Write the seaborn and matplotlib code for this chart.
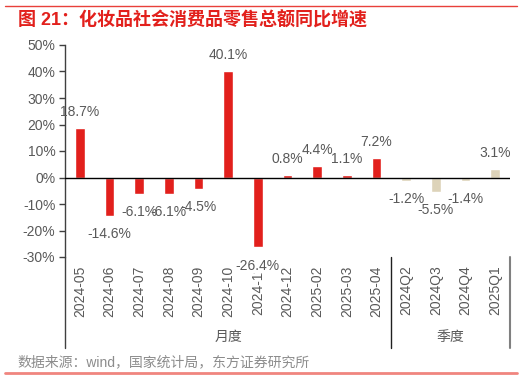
import matplotlib
matplotlib.use("Agg")
from matplotlib import pyplot as plt
import matplotlib.transforms as mtransforms
import pandas as pd
import seaborn as sns

# data
months = ["2024-05", "2024-06", "2024-07", "2024-08", "2024-09", "2024-10",
          "2024-11", "2024-12", "2025-02", "2025-03", "2025-04"]
month_vals = [18.7, -14.6, -6.1, -6.1, -4.5, 40.1, -26.4, 0.8, 4.4, 1.1, 7.2]
quarters = ["2024Q2", "2024Q3", "2024Q4", "2025Q1"]
quarter_vals = [-1.2, -5.5, -1.4, 3.1]
groups = ["月度", "季度"]

df = pd.DataFrame({
    "period": months + quarters,
    "value": month_vals + quarter_vals,
    "group": [groups[0]] * len(months) + [groups[1]] * len(quarters),
})

sns.set_theme(style="white")
plt.rcParams["font.family"] = ["Liberation Sans", "Noto Sans CJK SC"]
plt.rcParams["axes.unicode_minus"] = False

gray = "#595959"
fig = plt.figure(figsize=(5.22, 3.79), dpi=100)
ax = fig.add_axes([65 / 522, 1 - 257 / 379, 445 / 522, 212 / 379])

sns.barplot(data=df, x="period", y="value", hue="group", dodge=False,
            palette={groups[0]: "#E2201C", groups[1]: "#DDD3B9"},
            saturation=1, width=0.32, legend=False, ax=ax)

ax.set_xlim(-0.5, len(df) - 0.5)
ax.set_ylim(-30, 50)
ax.set_yticks(range(-30, 51, 10))
ax.set_yticklabels([f"{v}%" for v in range(-30, 51, 10)])
ax.set_xlabel("")
ax.set_ylabel("")
ax.tick_params(axis="y", left=True, length=4, width=1, color="#404040",
               labelsize=10, labelcolor=gray, pad=3)
ax.tick_params(axis="x", bottom=False, length=0, labelsize=10,
               labelcolor=gray, pad=6)
for lab in ax.get_xticklabels():
    lab.set_rotation(90)

for s in ["top", "right", "bottom"]:
    ax.spines[s].set_visible(False)
ax.spines["left"].set_color("#404040")
ax.spines["left"].set_linewidth(1)
ax.axhline(0, color="black", lw=1, zorder=3)

# value labels
for i, v in enumerate(df["value"]):
    off = 11.5 if v >= 0 else -13
    ax.annotate(f"{v:.1f}%", (i, v), xytext=(0, off), textcoords="offset points",
                ha="center", va="center", fontsize=10, color=gray,
                annotation_clip=False, zorder=5,
                bbox=dict(boxstyle="square,pad=0", fc="white", ec="none") if i == 6 else None)

# multi-level category axis
trans = mtransforms.blended_transform_factory(ax.transData, ax.transAxes)
ax.plot([-0.5, -0.5], [0, -0.43], transform=trans, color="#404040", lw=1, clip_on=False)
ax.plot([10.5, 10.5], [0, -0.43], transform=trans, color="#202020", lw=1, clip_on=False)
ax.plot([14.5, 14.5], [0, -0.43], transform=trans, color="#808080", lw=1.5, clip_on=False)
ax.text(5, -0.377, groups[0], transform=trans, ha="center", va="center",
        fontsize=10, color=gray)
ax.text(12.5, -0.377, groups[1], transform=trans, ha="center", va="center",
        fontsize=10, color=gray)

# title, source, frame lines
fig.add_artist(plt.Line2D([5 / 522, 517 / 522], [1 - 6 / 379] * 2,
                          color="#E8403A", lw=1))
fig.add_artist(plt.Line2D([5 / 522, 517 / 522], [1 - 373 / 379] * 2,
                          color="#F0857F", lw=2))
fig.text(18 / 522, 1 - 20 / 379, "图 21：化妆品社会消费品零售总额同比增速",
         ha="left", va="center", fontsize=13, fontweight="bold", color="#E2201C")
fig.text(17 / 522, 1 - 362 / 379, "数据来源：wind，国家统计局，东方证券研究所",
         ha="left", va="center", fontsize=10, color="#8C8C8C")

fig.savefig("out.png", dpi=100)
